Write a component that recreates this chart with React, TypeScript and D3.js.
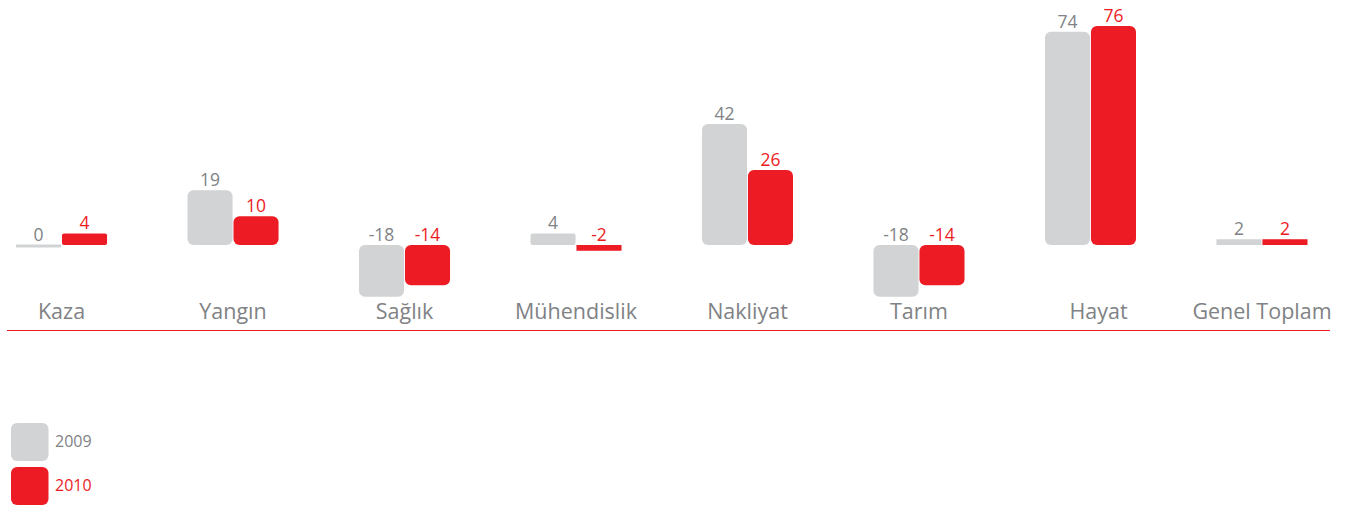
import React from 'react'
import * as d3 from 'd3'

const categories = ['Kaza', 'Yangın', 'Sağlık', 'Mühendislik', 'Nakliyat', 'Tarım', 'Hayat', 'Genel Toplam']
const years = ['2009', '2010']
const values2009 = [0, 19, -18, 4, 42, -18, 74, 2]
const values2010 = [4, 10, -14, -2, 26, -14, 76, 2]

const GRAY = '#d1d3d4'
const GRAY_TEXT = '#808285'
const RED = '#ed1c24'
const FONT = '"Open Sans", "Noto Sans", sans-serif'

const App = () => {
  const w = 1353
  const h = 506

  // group positions
  const x = d3.scaleBand<string>()
    .domain(categories)
    .range([16, 1307.5])
    .paddingInner(0.469)
    .paddingOuter(0)
  const xInner = d3.scaleBand<string>()
    .domain(years)
    .range([0, x.bandwidth()])
    .paddingInner(0.02)

  const y = d3.scaleLinear().domain([0, 76]).range([245, 26])

  const series = [
    { year: '2009', values: values2009, fill: GRAY, text: GRAY_TEXT, weight: 500 },
    { year: '2010', values: values2010, fill: RED, text: RED, weight: 500 },
  ]

  return (
    <svg width={w} height={h} style={{ position: 'absolute', left: 0, top: 0 }} fontFamily={FONT}>
      {series.map(s => (
        <g key={s.year}>
          {s.values.map((v, i) => {
            const bx = (x(categories[i]) ?? 0) + (xInner(s.year) ?? 0)
            const bw = xInner.bandwidth()
            let top = Math.min(y(v), y(0))
            let bh = Math.abs(y(v) - y(0))
            if (v === 0) { top = y(0) - 0.5; bh = 3 }
            const rx = bh > 14 ? 6 : bh > 9 ? 2 : 0
            const labelY = v >= 0 ? top - 4 : y(0) - 4
            return (
              <g key={i}>
                <rect x={bx} y={top} width={bw} height={bh} rx={rx} fill={s.fill} />
                <text x={bx + bw / 2} y={labelY} textAnchor="middle" fontSize={17.5}
                  fill={s.text} fontWeight={s.weight}>{v}</text>
              </g>
            )
          })}
        </g>
      ))}
      {categories.map(c => (
        <text key={c} x={(x(c) ?? 0) + x.bandwidth() / 2 + (c === 'Hayat' ? 8 : 0)} y={319}
          textAnchor="middle" fontSize={21.5} fill={GRAY_TEXT}>{c}</text>
      ))}
      <line x1={7} x2={1330} y1={330.5} y2={330.5} stroke={RED} strokeWidth={1.2} />
      {series.map((s, i) => (
        <g key={s.year} transform={`translate(11,${423 + i * 44})`}>
          <rect width={37.5} height={38} rx={6} fill={s.fill} />
          <text x={44} y={24} fontSize={16} fill={s.text} fontWeight={s.weight}>{s.year}</text>
        </g>
      ))}
    </svg>
  )
}

export default App
